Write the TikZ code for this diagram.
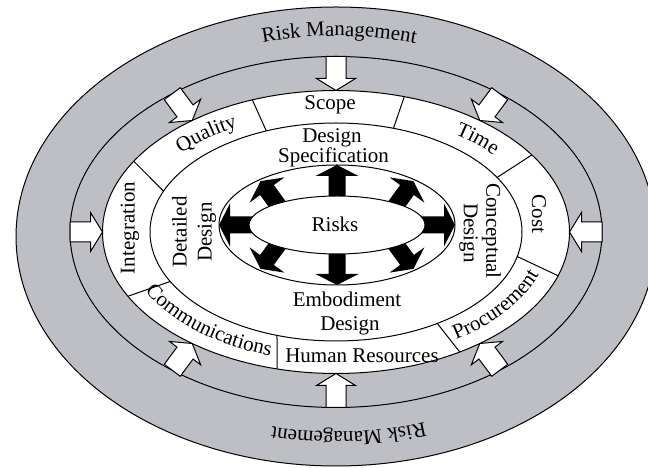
\documentclass[tikz,border=0pt]{standalone}
\usepackage{fontspec}
\setmainfont{Liberation Serif}
\usetikzlibrary{decorations.text,calc}
\definecolor{bandgray}{RGB}{190,191,196}
\newcommand\tfont{\fontsize{21}{25}\selectfont}
\tikzset{
  ln/.style={line width=1pt},
  lbl/.style={font=\tfont, inner sep=0pt},
  wharrow/.style={draw, fill=white, line width=1pt, line join=miter},
  blkarrow/.style={fill=black},
  arctext/.style={decorate, decoration={text along path, text align=center, text={|\tfont|#1}}}
}
\begin{document}
\begin{tikzpicture}[x=1pt,y=1pt]
\useasboundingbox (0,0) rectangle (648,468);
\clip (0,0) rectangle (648,468);
\coordinate (C) at (336,236);
\coordinate (CO) at (336,231.5);
\coordinate (CT) at (336,234);
\coordinate (CR) at (337,243);
% outer gray bands
\filldraw[ln, fill=bandgray] (CO) ellipse [x radius=320, y radius=229.5];
\draw[ln] (C) ellipse [x radius=266, y radius=175.5];
% white arrows
\foreach \t in {90,52,0,-52,-90,-128,180,128} {
  \pgfmathsetmacro\xa{336+266*cos(\t)}
  \pgfmathsetmacro\ya{236+175.5*sin(\t)}
  \pgfmathsetmacro\xb{336+233.5*cos(\t)}
  \pgfmathsetmacro\yb{236+141.5*sin(\t)}
  \pgfmathsetmacro\ang{atan2(\yb-\ya,\xb-\xa)}
  \pgfmathsetmacro\len{veclen(\xb-\xa,\yb-\ya)}
  \draw[wharrow, shift={(\xa,\ya)}, rotate=\ang] (0,-10) -- (\len-12,-10) -- (\len-12,-19.5) -- (\len,0) -- (\len-12,19.5) -- (\len-12,10) -- (0,10) -- cycle;
}
% project ring
\filldraw[ln, fill=white] (C) ellipse [x radius=233.5, y radius=141.5];
\draw[ln] (C) ellipse [x radius=186, y radius=109];
\foreach \a/\b in {111/112, 73/72, 33/30, -18/-13, -58/-57, 255.4/251.5, 207/207, 150/158} {
  \draw[ln] ($(C)+(\a:233.5 and 141.5)$) -- ($(C)+(\b:186 and 109)$);
}
% risk ring
\begin{scope}
\clip (CR) ellipse [x radius=118, y radius=60];
\foreach \bt/\dir/\L in {90/90/31, 270/270/31, 180/180/30, 0/0/30, 133/126/28, 47/54/28, 227/234/28, 313/306/28} {
  \fill[blkarrow, shift={($(CR)+(\bt:88 and 29)$)}, rotate=\dir] (-4,-8.5) -- (\L-11,-8.5) -- (\L-11,-21.5) -- (\L,0) -- (\L-11,21.5) -- (\L-11,8.5) -- (-4,8.5) -- cycle;
}
\end{scope}
\filldraw[ln, fill=white] (CR) ellipse [x radius=88, y radius=29];
\draw[ln] (CR) ellipse [x radius=118, y radius=60];
% labels
\node[lbl, anchor=base] (scope) at (330,358) {Scope};
\node[lbl, anchor=base] (dspec1) at (332,325) {Design};
\node[lbl, anchor=base] (dspec2) at (333.5,305) {Specification};
\node[lbl, anchor=base] (risks) at (335,236) {Risks};
\node[lbl, anchor=base] (emb1) at (347,161) {Embodiment};
\node[lbl, anchor=base] (emb2) at (350,137) {Design};
\node[lbl, anchor=base] (hr) at (362,105) {Human Resources};
\node[lbl, rotate=90] (integ) at (130,240) {Integration};
\node[lbl, rotate=-90] (cost) at (539,254) {Cost};
\node[lbl, rotate=90] (det1) at (179.5,236) {Detailed};
\node[lbl, rotate=90] (det2) at (207,236) {Design};
\node[lbl, rotate=-90] (con1) at (491.5,237) {Conceptual};
\node[lbl, rotate=-90] (con2) at (468.5,235) {Design};
% curved labels
\path[arctext={Risk Management}] ($(CT)+(119.3:286 and 198)$) arc[start angle=119.3, end angle=59.3, x radius=286, y radius=198];
\path[arctext={Risk Management}] ($(CT)+(302.7:286 and 198)$) arc[start angle=302.7, end angle=242.7, x radius=286, y radius=198];
\path[arctext={Quality}] ($(C)+(150:205 and 120)$) arc[start angle=150, end angle=110, x radius=205, y radius=120];
\path[arctext={Time}] ($(C)+(64:205 and 120)$) arc[start angle=64, end angle=28, x radius=205, y radius=120];
\path[arctext={Communications}] ($(C)+(196:215 and 130)$) arc[start angle=196, end angle=260, x radius=215, y radius=130];
\path[arctext={Procurement}] ($(C)+(298.5:215 and 130)$) arc[start angle=298.5, end angle=348.5, x radius=215, y radius=130];
\end{tikzpicture}
\end{document}
